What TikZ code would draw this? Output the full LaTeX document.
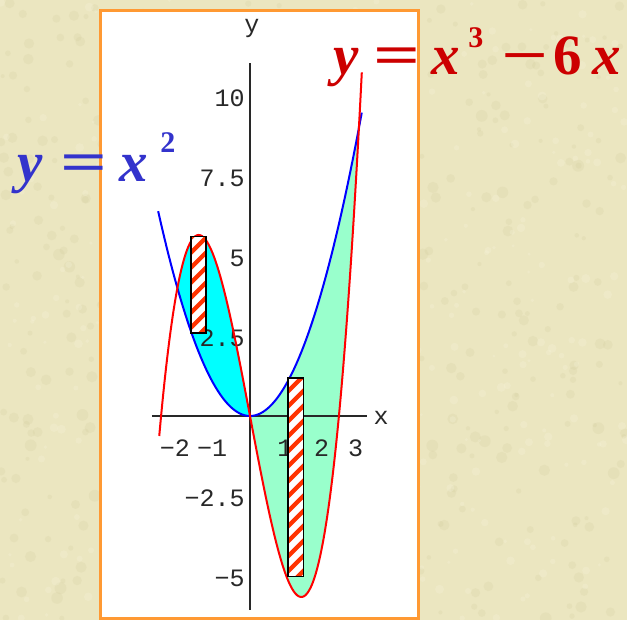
\documentclass[tikz,border=0pt]{standalone}
\usepackage{fontspec}
\usepackage{graphicx}
\setmainfont{Liberation Serif}
\newfontfamily\tickfont{Liberation Mono}
\usetikzlibrary{calc}

\definecolor{paperbg}{RGB}{235,230,192}
\definecolor{paperdark}{RGB}{205,198,150}
\definecolor{paperlight}{RGB}{248,245,222}
\definecolor{frameorange}{RGB}{255,153,51}
\definecolor{curvered}{RGB}{255,0,0}
\definecolor{curveblue}{RGB}{0,0,255}
\definecolor{lobecyan}{RGB}{0,255,255}
\definecolor{lobegreen}{RGB}{153,255,204}
\definecolor{eqred}{RGB}{204,0,0}
\definecolor{eqblue}{RGB}{51,51,204}
\definecolor{hatchred}{RGB}{255,51,0}
\definecolor{axisgray}{RGB}{40,40,40}

\newcommand\wideop[1]{\scalebox{1.45}[1]{#1}}

\tikzset{
  panel/.style = {draw=frameorange, fill=white, line width=3pt},
  axisline/.style = {draw=axisgray, line width=2pt},
  ticklbl/.style = {
    font=\tickfont\fontsize{25}{25}\selectfont,
    text=axisgray, inner sep=0pt
  },
  graph/.style = {draw=#1, line width=2pt, smooth},
  stripe/.style = {draw=hatchred, line width=4.2pt},
  bar/.style = {draw=black, line width=1.6pt},
  eqlabel/.style = {
    text=#1, font=\fontsize{57}{57}\selectfont\bfseries,
    inner sep=0pt, anchor=base west
  },
}

\begin{document}
\begin{tikzpicture}[x=1pt, y=1pt]

  \useasboundingbox (0,0) rectangle (627,620);
  \fill[paperbg] (0,0) rectangle (627,620);
  % mottled paper
  \pgfmathsetseed{11}
  \foreach \i in {1,...,500}
    \fill[paperdark, opacity=0.18] (rnd*627,rnd*620) circle (2+4*rnd);
  \foreach \i in {1,...,400}
    \fill[paperlight, opacity=0.25] (rnd*627,rnd*620) circle (1.5+3*rnd);
  \draw[panel] (100,1.5) rectangle (418.5,609);

  % plot frame: origin at the axes crossing
  \begin{scope}[shift={(250pt,204pt)}, x=36.3pt, y=32pt]
    % lobes between the curves
    \fill[lobecyan] plot[domain=-2:0, samples=60] (\x,{\x*\x*\x-6*\x})
      -- plot[domain=0:-2, samples=60] (\x,{\x*\x}) -- cycle;
    \fill[lobegreen] plot[domain=0:3, samples=80] (\x,{\x*\x})
      -- plot[domain=3:0, samples=80] (\x,{\x*\x*\x-6*\x}) -- cycle;

    \foreach \v/\t in {10/10, 7.5/7.5, 5/5, 2.5/2.5, -2.5/−2.5, -5/−5}
      \node[ticklbl, anchor=east] (ytick\t) at (-0.14,\v-0.06) {\t};
    \foreach \u/\t in {-2.07/−2, -1.04/−1, 0.96/1, 1.97/2, 2.91/3}
      \node[ticklbl] (xtick\t) at (\u,-1.0) {\t};
    \node[ticklbl] (xname) at (3.61,-0.06) {x};
    \node[ticklbl] (yname) at (0.055,12.12) {y};

    \draw[axisline] (-2.70,0) -- (3.22,0);
    \draw[axisline] (0,-6.06) -- (0,11.03);

    \draw[graph=curveblue] plot[domain=-2.53:3.08, samples=100]
      (\x,{\x*\x});
    \draw[graph=curvered] plot[domain=-2.5:3.08, samples=120]
      (\x,{\x*\x*\x-6*\x});
  \end{scope}

  % hatched sample strips
  \foreach \xa/\ya/\xb/\yb in {190.7/287/206/383.3, 287.7/43.3/303.3/241.7}{
    \begin{scope}
      \clip (\xa,\ya) rectangle (\xb,\yb);
      \fill[white] (\xa,\ya) rectangle (\xb,\yb);
      \foreach \k in {-3,...,15}
        \draw[stripe] (\xa-5,\ya+15*\k) -- ++(30,30);
    \end{scope}
    \draw[bar] (\xa,\ya) rectangle (\xb,\yb);
  }

  % curve names
  \node[eqlabel=eqred] (cubiclbl) at (333,545)
    {\textit{y}\hspace{15pt}\wideop{=}\hspace{11pt}\textit{x}\hspace{8pt}%
     \raisebox{27pt}{\fontsize{30}{30}\selectfont 3}\hspace{18pt}%
     \wideop{−}\hspace{5pt}6\hspace{11pt}\textit{x}};
  \node[eqlabel=eqblue] (squarelbl) at (17,438)
    {\textit{y}\hspace{18pt}\wideop{=}\hspace{12pt}\textit{x}\hspace{12pt}%
     \raisebox{29pt}{\fontsize{30}{30}\selectfont 2}};

\end{tikzpicture}
\end{document}
